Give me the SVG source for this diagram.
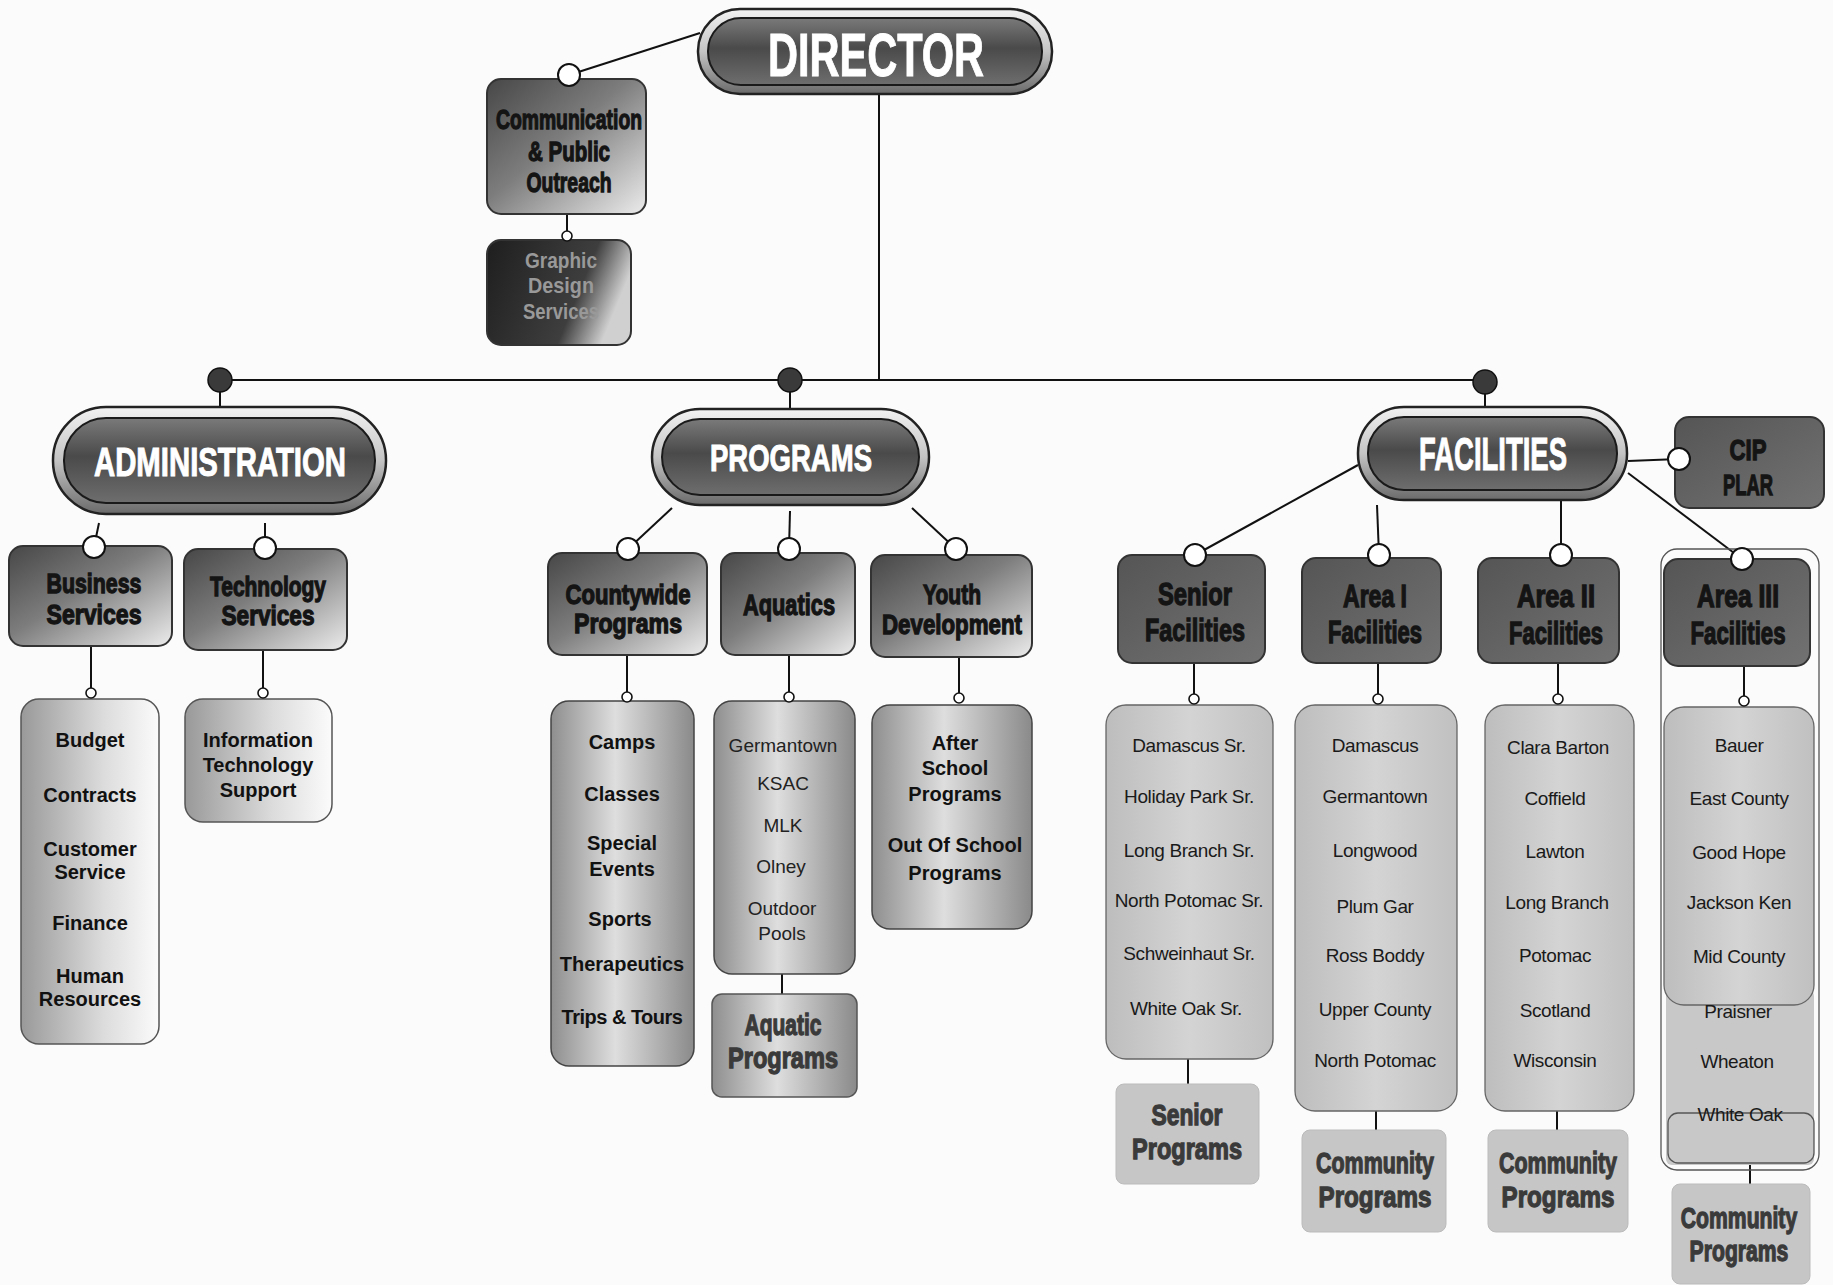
<svg xmlns="http://www.w3.org/2000/svg" width="1833" height="1285" viewBox="0 0 1833 1285">
<defs>
<linearGradient id="gOuter" x1="0" y1="0" x2="0" y2="1"><stop offset="0" stop-color="#f2f2f2"/><stop offset="0.5" stop-color="#c4c4c4"/><stop offset="1" stop-color="#6a6a6a"/></linearGradient>
<linearGradient id="gInner" x1="0" y1="0" x2="0" y2="1"><stop offset="0" stop-color="#7a7a7a"/><stop offset="0.45" stop-color="#4a4a4a"/><stop offset="1" stop-color="#6e6e6e"/></linearGradient>
<linearGradient id="gL2" x1="0" y1="0" x2="1" y2="1"><stop offset="0" stop-color="#474747"/><stop offset="0.45" stop-color="#7d7d7d"/><stop offset="1" stop-color="#ececec"/></linearGradient>
<linearGradient id="gGraphic" x1="0" y1="0" x2="1" y2="0.3"><stop offset="0" stop-color="#1e1e1e"/><stop offset="0.72" stop-color="#3e3e3e"/><stop offset="1" stop-color="#d0d0d0"/></linearGradient>
<linearGradient id="gFac" x1="0" y1="0" x2="1" y2="1"><stop offset="0" stop-color="#555"/><stop offset="1" stop-color="#727272"/></linearGradient>
<linearGradient id="gListA" x1="0" y1="0" x2="1" y2="0"><stop offset="0" stop-color="#999"/><stop offset="0.6" stop-color="#dcdcdc"/><stop offset="1" stop-color="#fbfbfb"/></linearGradient>
<linearGradient id="gListB" x1="0" y1="0" x2="1" y2="0"><stop offset="0" stop-color="#8e8e8e"/><stop offset="0.45" stop-color="#dedede"/><stop offset="1" stop-color="#8a8a8a"/></linearGradient>
<linearGradient id="gListF" x1="0" y1="0" x2="1" y2="0"><stop offset="0" stop-color="#bdbdbd"/><stop offset="0.5" stop-color="#d4d4d4"/><stop offset="1" stop-color="#c0c0c0"/></linearGradient>
<style>
.ln{stroke:#111;stroke-width:2;fill:none}
.oc{fill:#fff;stroke:#111;stroke-width:2}
.sc{fill:#fff;stroke:#111;stroke-width:1.6}
.dot{fill:#3a3a3a;stroke:#111;stroke-width:1.5}
.po{fill:url(#gOuter);stroke:#222;stroke-width:2.5}
.pi{fill:url(#gInner);stroke:#1a1a1a;stroke-width:2}
.l2{fill:url(#gL2);stroke:#333;stroke-width:2}
.fac{fill:url(#gFac);stroke:#333;stroke-width:2}
.la{fill:url(#gListA);stroke:#555;stroke-width:1.5}
.lb{fill:url(#gListB);stroke:#444;stroke-width:1.5}
.lf{fill:url(#gListF);stroke:#666;stroke-width:1.3}
.cp{fill:#c6c6c6;stroke:#bbb;stroke-width:1}
.hT{font-family:"Liberation Sans",Arial,sans-serif;font-weight:bold;fill:#fff;stroke:#fff;stroke-width:1;text-anchor:middle}
.kT{font-family:"Liberation Sans",Arial,sans-serif;font-weight:bold;fill:#141414;stroke:#141414;stroke-width:1.3;text-anchor:middle}
.gT{font-family:"Liberation Sans",Arial,sans-serif;font-weight:bold;fill:#3a3a3a;stroke:#3a3a3a;stroke-width:1.3;text-anchor:middle}
.bT{font-family:"Liberation Sans",Arial,sans-serif;font-weight:bold;font-size:20px;fill:#111;text-anchor:middle}
.rT{font-family:"Liberation Sans",Arial,sans-serif;font-size:19px;fill:#222;text-anchor:middle}
.nT{font-family:"Liberation Sans Narrow","Liberation Sans",Arial,sans-serif;font-size:19px;letter-spacing:-0.4px;fill:#1a1a1a;text-anchor:middle}
</style>
</defs>
<rect width="1833" height="1285" fill="#fbfbfb"/>

<g id="connectors">
<line class="ln" x1="879" y1="94" x2="879" y2="380"/>
<line class="ln" x1="220" y1="380" x2="1485" y2="380"/>
<line class="ln" x1="220" y1="380" x2="220" y2="408"/>
<line class="ln" x1="790" y1="380" x2="790" y2="410"/>
<line class="ln" x1="1485" y1="380" x2="1485" y2="408"/>
<line class="ln" x1="700" y1="33" x2="569" y2="75"/>
<line class="ln" x1="567" y1="214" x2="567" y2="240"/>
<line class="ln" x1="99" y1="523" x2="94" y2="547"/>
<line class="ln" x1="265" y1="523" x2="265" y2="547"/>
<line class="ln" x1="672" y1="508" x2="628" y2="549"/>
<line class="ln" x1="790" y1="511" x2="789" y2="549"/>
<line class="ln" x1="912" y1="508" x2="956" y2="549"/>
<line class="ln" x1="1358" y1="465" x2="1195" y2="555"/>
<line class="ln" x1="1377" y1="505" x2="1379" y2="555"/>
<line class="ln" x1="1561" y1="500" x2="1561" y2="555"/>
<line class="ln" x1="1628" y1="473" x2="1742" y2="559"/>
<line class="ln" x1="1628" y1="461" x2="1679" y2="459"/>
<line class="ln" x1="91" y1="646" x2="91" y2="692"/>
<line class="ln" x1="263" y1="650" x2="263" y2="692"/>
<line class="ln" x1="627" y1="655" x2="627" y2="697"/>
<line class="ln" x1="789" y1="655" x2="789" y2="697"/>
<line class="ln" x1="959" y1="657" x2="959" y2="698"/>
<line class="ln" x1="1194" y1="663" x2="1194" y2="698"/>
<line class="ln" x1="1378" y1="663" x2="1378" y2="698"/>
<line class="ln" x1="1558" y1="663" x2="1558" y2="699"/>
<line class="ln" x1="1744" y1="666" x2="1744" y2="701"/>
<line class="ln" x1="782" y1="974" x2="782" y2="994"/>
<line class="ln" x1="1188" y1="1059" x2="1188" y2="1084"/>
<line class="ln" x1="1376" y1="1111" x2="1376" y2="1130"/>
<line class="ln" x1="1557" y1="1111" x2="1557" y2="1130"/>
<line class="ln" x1="1750" y1="1163" x2="1750" y2="1184"/>
<circle class="dot" cx="220" cy="380" r="12"/>
<circle class="dot" cx="790" cy="380" r="12"/>
<circle class="dot" cx="1485" cy="382" r="12"/>
</g>

<g id="director">
<rect class="po" x="698" y="9" width="354" height="85" rx="42"/>
<rect class="pi" x="708" y="18" width="334" height="67" rx="33"/>
<text class="hT" x="876" y="76" font-size="62" textLength="216" lengthAdjust="spacingAndGlyphs">DIRECTOR</text>
</g>

<g id="communication">
<rect class="l2" x="487" y="79" width="159" height="135" rx="14"/>
<circle class="oc" cx="569" cy="75" r="11"/>
<text class="kT" x="569" y="129" font-size="28" textLength="146" lengthAdjust="spacingAndGlyphs">Communication</text>
<text class="kT" x="569" y="161" font-size="28" textLength="82" lengthAdjust="spacingAndGlyphs">&amp; Public</text>
<text class="kT" x="569" y="192" font-size="28" textLength="85" lengthAdjust="spacingAndGlyphs">Outreach</text>
</g>

<g id="graphic-design">
<rect x="487" y="240" width="144" height="105" rx="14" fill="url(#gGraphic)" stroke="#333" stroke-width="2"/>
<circle class="sc" cx="567" cy="236" r="5"/>
<text x="561" y="268" font-family="Liberation Sans, Arial, sans-serif" font-weight="bold" font-size="22" fill="#999" text-anchor="middle" textLength="72" lengthAdjust="spacingAndGlyphs">Graphic</text>
<text x="561" y="293" font-family="Liberation Sans, Arial, sans-serif" font-weight="bold" font-size="22" fill="#999" text-anchor="middle" textLength="66" lengthAdjust="spacingAndGlyphs">Design</text>
<text x="561" y="319" font-family="Liberation Sans, Arial, sans-serif" font-weight="bold" font-size="22" fill="#999" text-anchor="middle" textLength="76" lengthAdjust="spacingAndGlyphs">Services</text>
</g>

<g id="administration">
<rect class="po" x="53" y="407" width="333" height="107" rx="53"/>
<rect class="pi" x="64" y="418" width="311" height="85" rx="42"/>
<text class="hT" x="220" y="476" font-size="40" textLength="252" lengthAdjust="spacingAndGlyphs">ADMINISTRATION</text>
</g>

<g id="programs">
<rect class="po" x="652" y="409" width="277" height="96" rx="48"/>
<rect class="pi" x="662" y="419" width="257" height="76" rx="38"/>
<text class="hT" x="791" y="471" font-size="36" textLength="162" lengthAdjust="spacingAndGlyphs">PROGRAMS</text>
</g>

<g id="facilities">
<rect class="po" x="1358" y="407" width="269" height="93" rx="46"/>
<rect class="pi" x="1368" y="417" width="249" height="73" rx="36"/>
<text class="hT" x="1493" y="470" font-size="46" textLength="148" lengthAdjust="spacingAndGlyphs">FACILITIES</text>
</g>

<g id="cip-plar">
<rect class="fac" x="1675" y="417" width="149" height="91" rx="14"/>
<circle class="oc" cx="1679" cy="459" r="11"/>
<text class="kT" x="1748" y="460" font-size="30" textLength="37" lengthAdjust="spacingAndGlyphs">CIP</text>
<text class="kT" x="1748" y="495" font-size="30" textLength="50" lengthAdjust="spacingAndGlyphs">PLAR</text>
</g>

<g id="business-services">
<rect class="l2" x="9" y="546" width="163" height="100" rx="14"/>
<circle class="oc" cx="94" cy="547" r="11"/>
<text class="kT" x="94" y="593" font-size="28" textLength="95" lengthAdjust="spacingAndGlyphs">Business</text>
<text class="kT" x="94" y="624" font-size="28" textLength="95" lengthAdjust="spacingAndGlyphs">Services</text>
</g>

<g id="technology-services">
<rect class="l2" x="184" y="549" width="163" height="101" rx="14"/>
<circle class="oc" cx="265" cy="548" r="11"/>
<text class="kT" x="268" y="596" font-size="28" textLength="116" lengthAdjust="spacingAndGlyphs">Technology</text>
<text class="kT" x="268" y="625" font-size="28" textLength="93" lengthAdjust="spacingAndGlyphs">Services</text>
</g>

<g id="business-list">
<rect class="la" x="21" y="699" width="138" height="345" rx="18"/>
<circle class="sc" cx="91" cy="693" r="5"/>
<text class="bT" x="90" y="747">Budget</text>
<text class="bT" x="90" y="802">Contracts</text>
<text class="bT" x="90" y="856">Customer</text>
<text class="bT" x="90" y="879">Service</text>
<text class="bT" x="90" y="930">Finance</text>
<text class="bT" x="90" y="983">Human</text>
<text class="bT" x="90" y="1006">Resources</text>
</g>

<g id="tech-list">
<rect class="la" x="185" y="699" width="147" height="123" rx="18"/>
<circle class="sc" cx="263" cy="693" r="5"/>
<text class="bT" x="258" y="747">Information</text>
<text class="bT" x="258" y="772">Technology</text>
<text class="bT" x="258" y="797">Support</text>
</g>

<g id="countywide-programs">
<rect class="l2" x="548" y="553" width="159" height="102" rx="14"/>
<circle class="oc" cx="628" cy="549" r="11"/>
<text class="kT" x="628" y="604" font-size="28" textLength="125" lengthAdjust="spacingAndGlyphs">Countywide</text>
<text class="kT" x="628" y="633" font-size="28" textLength="108" lengthAdjust="spacingAndGlyphs">Programs</text>
</g>

<g id="aquatics">
<rect class="l2" x="721" y="553" width="134" height="102" rx="14"/>
<circle class="oc" cx="789" cy="549" r="11"/>
<text class="kT" x="789" y="615" font-size="30" textLength="92" lengthAdjust="spacingAndGlyphs">Aquatics</text>
</g>

<g id="youth-development">
<rect class="l2" x="871" y="555" width="161" height="102" rx="14"/>
<circle class="oc" cx="956" cy="549" r="11"/>
<text class="kT" x="952" y="604" font-size="28" textLength="58" lengthAdjust="spacingAndGlyphs">Youth</text>
<text class="kT" x="952" y="634" font-size="28" textLength="140" lengthAdjust="spacingAndGlyphs">Development</text>
</g>

<g id="countywide-list">
<rect class="lb" x="551" y="701" width="143" height="365" rx="18"/>
<circle class="sc" cx="627" cy="697" r="5"/>
<text class="bT" x="622" y="749">Camps</text>
<text class="bT" x="622" y="801">Classes</text>
<text class="bT" x="622" y="850">Special</text>
<text class="bT" x="622" y="876">Events</text>
<text class="bT" x="620" y="926">Sports</text>
<text class="bT" x="622" y="971">Therapeutics</text>
<text class="bT" x="622" y="1024" letter-spacing="-0.5">Trips &amp; Tours</text>
</g>

<g id="aquatics-list">
<rect class="lb" x="714" y="701" width="141" height="273" rx="18"/>
<circle class="sc" cx="789" cy="697" r="5"/>
<text class="rT" x="783" y="752">Germantown</text>
<text class="rT" x="783" y="790">KSAC</text>
<text class="rT" x="783" y="832">MLK</text>
<text class="rT" x="781" y="873">Olney</text>
<text class="rT" x="782" y="915">Outdoor</text>
<text class="rT" x="782" y="940">Pools</text>
</g>

<g id="aquatic-programs">
<rect x="712" y="994" width="145" height="103" rx="10" fill="url(#gListB)" stroke="#555" stroke-width="1.5"/>
<text class="gT" x="783" y="1035" font-size="30" textLength="77" lengthAdjust="spacingAndGlyphs">Aquatic</text>
<text class="gT" x="783" y="1068" font-size="30" textLength="110" lengthAdjust="spacingAndGlyphs">Programs</text>
</g>

<g id="youth-list">
<rect class="lb" x="872" y="705" width="160" height="224" rx="18"/>
<circle class="sc" cx="959" cy="698" r="5"/>
<text class="bT" x="955" y="750">After</text>
<text class="bT" x="955" y="775">School</text>
<text class="bT" x="955" y="801">Programs</text>
<text class="bT" x="955" y="852">Out Of School</text>
<text class="bT" x="955" y="880">Programs</text>
</g>

<g id="senior-facilities">
<rect class="fac" x="1118" y="555" width="147" height="108" rx="14"/>
<circle class="oc" cx="1195" cy="555" r="11"/>
<text class="kT" x="1195" y="605" font-size="31" textLength="74" lengthAdjust="spacingAndGlyphs">Senior</text>
<text class="kT" x="1195" y="641" font-size="31" textLength="100" lengthAdjust="spacingAndGlyphs">Facilities</text>
</g>

<g id="area1-facilities">
<rect class="fac" x="1302" y="558" width="139" height="105" rx="14"/>
<circle class="oc" cx="1379" cy="555" r="11"/>
<text class="kT" x="1375" y="607" font-size="31" textLength="64" lengthAdjust="spacingAndGlyphs">Area I</text>
<text class="kT" x="1375" y="643" font-size="31" textLength="94" lengthAdjust="spacingAndGlyphs">Facilities</text>
</g>

<g id="area2-facilities">
<rect class="fac" x="1478" y="558" width="141" height="105" rx="14"/>
<circle class="oc" cx="1561" cy="555" r="11"/>
<text class="kT" x="1556" y="607" font-size="31" textLength="78" lengthAdjust="spacingAndGlyphs">Area II</text>
<text class="kT" x="1556" y="644" font-size="31" textLength="94" lengthAdjust="spacingAndGlyphs">Facilities</text>
</g>

<g id="area3-outline">
<rect x="1661" y="549" width="158" height="621" rx="16" fill="none" stroke="#555" stroke-width="1.3"/>
<rect x="1666" y="990" width="148" height="175" rx="6" fill="#c8c8c8"/>
</g>

<g id="area3-facilities">
<rect class="fac" x="1664" y="559" width="146" height="107" rx="14"/>
<circle class="oc" cx="1742" cy="559" r="11"/>
<text class="kT" x="1738" y="607" font-size="31" textLength="82" lengthAdjust="spacingAndGlyphs">Area III</text>
<text class="kT" x="1738" y="644" font-size="31" textLength="95" lengthAdjust="spacingAndGlyphs">Facilities</text>
</g>

<g id="senior-list">
<rect class="lf" x="1106" y="705" width="167" height="354" rx="20"/>
<circle class="sc" cx="1194" cy="699" r="5"/>
<text class="nT" x="1189" y="752">Damascus Sr.</text>
<text class="nT" x="1189" y="803">Holiday Park Sr.</text>
<text class="nT" x="1189" y="857">Long Branch Sr.</text>
<text class="nT" x="1189" y="907">North Potomac Sr.</text>
<text class="nT" x="1189" y="960">Schweinhaut Sr.</text>
<text class="nT" x="1186" y="1015">White Oak Sr.</text>
</g>

<g id="senior-programs">
<rect class="cp" x="1116" y="1084" width="143" height="100" rx="8"/>
<text class="gT" x="1187" y="1125" font-size="30" textLength="71" lengthAdjust="spacingAndGlyphs">Senior</text>
<text class="gT" x="1187" y="1159" font-size="30" textLength="110" lengthAdjust="spacingAndGlyphs">Programs</text>
</g>

<g id="area1-list">
<rect class="lf" x="1295" y="705" width="162" height="406" rx="20"/>
<circle class="sc" cx="1378" cy="699" r="5"/>
<text class="nT" x="1375" y="752">Damascus</text>
<text class="nT" x="1375" y="803">Germantown</text>
<text class="nT" x="1375" y="857">Longwood</text>
<text class="nT" x="1375" y="913">Plum Gar</text>
<text class="nT" x="1375" y="962">Ross Boddy</text>
<text class="nT" x="1375" y="1016">Upper County</text>
<text class="nT" x="1375" y="1067">North Potomac</text>
</g>

<g id="community-programs-1">
<rect class="cp" x="1302" y="1130" width="144" height="102" rx="8"/>
<text class="gT" x="1375" y="1173" font-size="30" textLength="118" lengthAdjust="spacingAndGlyphs">Community</text>
<text class="gT" x="1375" y="1207" font-size="30" textLength="113" lengthAdjust="spacingAndGlyphs">Programs</text>
</g>

<g id="area2-list">
<rect class="lf" x="1485" y="705" width="149" height="406" rx="20"/>
<circle class="sc" cx="1558" cy="699" r="5"/>
<text class="nT" x="1558" y="754">Clara Barton</text>
<text class="nT" x="1555" y="805">Coffield</text>
<text class="nT" x="1555" y="858">Lawton</text>
<text class="nT" x="1557" y="909">Long Branch</text>
<text class="nT" x="1555" y="962">Potomac</text>
<text class="nT" x="1555" y="1017">Scotland</text>
<text class="nT" x="1555" y="1067">Wisconsin</text>
</g>

<g id="community-programs-2">
<rect class="cp" x="1488" y="1130" width="140" height="102" rx="8"/>
<text class="gT" x="1558" y="1173" font-size="30" textLength="118" lengthAdjust="spacingAndGlyphs">Community</text>
<text class="gT" x="1558" y="1207" font-size="30" textLength="113" lengthAdjust="spacingAndGlyphs">Programs</text>
</g>

<g id="area3-list">
<rect class="lf" x="1664" y="707" width="150" height="298" rx="20"/>
<circle class="sc" cx="1744" cy="701" r="5"/>
<text class="nT" x="1739" y="752">Bauer</text>
<text class="nT" x="1739" y="805">East County</text>
<text class="nT" x="1739" y="859">Good Hope</text>
<text class="nT" x="1739" y="909">Jackson Ken</text>
<text class="nT" x="1739" y="963">Mid County</text>
</g>

<g id="area3-more">
<rect x="1668" y="1113" width="146" height="50" rx="10" fill="none" stroke="#555" stroke-width="1.3"/>
<text class="nT" x="1738" y="1018">Praisner</text>
<text class="nT" x="1737" y="1068">Wheaton</text>
<text class="nT" x="1740" y="1121">White Oak</text>
</g>

<g id="community-programs-3">
<rect class="cp" x="1672" y="1184" width="138" height="100" rx="8"/>
<text class="gT" transform="translate(1739 1228) scale(0.73 1)" x="0" y="0" font-size="29">Community</text>
<text class="gT" transform="translate(1739 1261) scale(0.73 1)" x="0" y="0" font-size="29">Programs</text>
</g>
</svg>
